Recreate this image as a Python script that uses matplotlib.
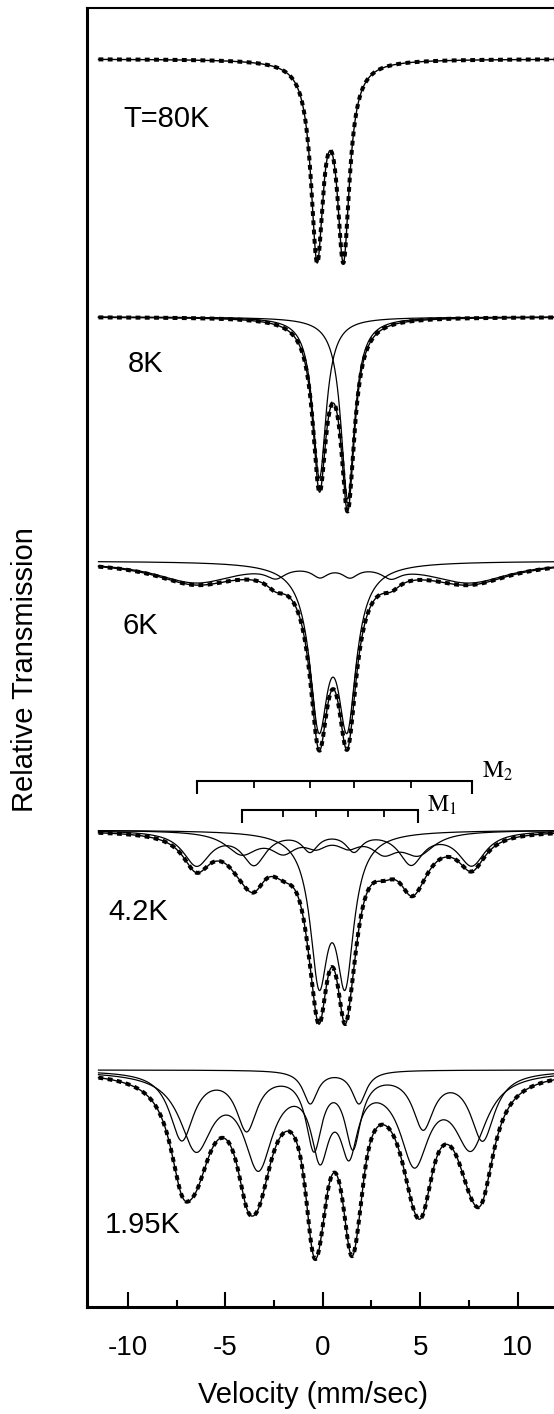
import numpy as np
import matplotlib.pyplot as plt

plt.rcParams['font.family'] = ['Liberation Sans', 'DejaVu Sans']
plt.rcParams['axes.unicode_minus'] = False
plt.rcParams['mathtext.fontset'] = 'stix'

# velocity grid (mm/sec)
v = np.linspace(-11.5, 12.0, 1600)

# vertical shift of each spectrum (percent transmission)
offsets = [0.0, 25.8, 50.2, 77.1, 101.1]
temps = ["T=80K", "8K", "6K", "4.2K", "1.95K"]

# --- 80K: quadrupole doublet ---
t80_pos = [-0.29, 1.06]
t80_depth = [19.0, 19.0]
t80_width = [0.38, 0.38]

# --- 8K: two single lines ---
t8_pos = [-0.17, 1.28]
t8_depth = [16.1, 18.2]
t8_width = [0.42, 0.42]

# --- 6K: doublet + broad relaxing component ---
t6_dbl_pos = [-0.2, 1.25]
t6_dbl_depth = [15.2, 15.2]
t6_dbl_width = [0.57, 0.57]
t6_brd_pos = [-6.5, -2.4, -0.14, 1.4, 3.5, 7.5]
t6_brd_depth = [2.1, 1.0, 1.0, 1.0, 1.0, 2.1]
t6_brd_width = [2.6, 0.6, 0.5, 0.5, 0.6, 2.6]

# --- 4.2K: doublet + sextets M1, M2 ---
t42_dbl_pos = [-0.19, 1.15]
t42_dbl_depth = [14.0, 14.0]
t42_dbl_width = [0.55, 0.55]
m2_lines = [-6.47, -3.52, -0.65, 1.6, 4.53, 7.64]
t42_m2_depth = [3.4, 3.2, 1.8, 1.8, 3.2, 3.4]
t42_m2_width = [0.85, 0.75, 0.5, 0.5, 0.75, 0.85]
m1_lines = [-4.16, -2.02, -0.34, 1.31, 3.14, 4.9]
t42_m1_depth = [2.2, 1.8, 1.2, 1.2, 1.8, 2.2]
t42_m1_width = [1.0, 0.8, 0.7, 0.7, 0.8, 1.0]

# --- 1.95K: small doublet + two sextets ---
t195_dbl_pos = [-0.64, 1.86]
t195_dbl_depth = [3.3, 3.3]
t195_dbl_width = [0.45, 0.45]
t195_s1_pos = [-7.23, -3.9, -0.45, 1.55, 5.15, 8.2]
t195_s1_depth = [6.8, 5.6, 7.4, 7.2, 5.4, 6.8]
t195_s1_width = [0.75, 0.65, 0.5, 0.5, 0.65, 0.75]
t195_s2_pos = [-6.5, -3.3, -0.14, 1.35, 4.7, 7.6]
t195_s2_depth = [7.4, 9.0, 7.4, 7.0, 8.6, 7.2]
t195_s2_width = [1.0, 0.9, 0.55, 0.55, 0.9, 1.0]


def lorentz(pos, depth, width):
    """Sum of Lorentzian absorption lines."""
    a = np.zeros_like(v)
    for p, d, w in zip(pos, depth, width):
        a += d * w**2 / ((v - p)**2 + w**2)
    return a


def draw_panel(ax, k, parts):
    base = offsets[k]
    total = sum(parts)
    # measured points (dotted) and fitted envelope
    ax.plot(v, -base - total, color='k', lw=2.9, ls=(0, (1.2, 1.1)),
            dash_capstyle='butt')
    if len(parts) > 1:
        for p in parts:
            ax.plot(v, -base - p, color='k', lw=0.9)
    ax.plot(v, -base - total, color='k', lw=1.0)


fig = plt.figure(figsize=(5.54, 14.14), dpi=100)
ax = fig.add_axes([87 / 554, 1 - 1307 / 1414, 1 - 87 / 554, 1299 / 1414])

draw_panel(ax, 0, [lorentz(t80_pos, t80_depth, t80_width)])
draw_panel(ax, 1, [lorentz(t8_pos[:1], t8_depth[:1], t8_width[:1]),
                   lorentz(t8_pos[1:], t8_depth[1:], t8_width[1:])])
draw_panel(ax, 2, [lorentz(t6_dbl_pos, t6_dbl_depth, t6_dbl_width),
                   lorentz(t6_brd_pos, t6_brd_depth, t6_brd_width)])
draw_panel(ax, 3, [lorentz(t42_dbl_pos, t42_dbl_depth, t42_dbl_width),
                   lorentz(m2_lines, t42_m2_depth, t42_m2_width),
                   lorentz(m1_lines, t42_m1_depth, t42_m1_width)])
draw_panel(ax, 4, [lorentz(t195_dbl_pos, t195_dbl_depth, t195_dbl_width),
                   lorentz(t195_s1_pos, t195_s1_depth, t195_s1_width),
                   lorentz(t195_s2_pos, t195_s2_depth, t195_s2_width)])

# temperature labels
label_xy = [(-10.24, -6.8), (-9.98, -31.3), (-10.26, -57.5),
            (-11.0, -86.1), (-11.2, -117.4)]
for t, (x, y) in zip(temps, label_xy):
    ax.text(x, y, t, fontsize=21, ha='left', va='baseline')

# stick diagrams for the two sextets
for lines, y0, name, lx, ly in [(m2_lines, -72.2, r"$\mathrm{M}_2$", 8.15, -71.9),
                                (m1_lines, -75.1, r"$\mathrm{M}_1$", 5.35, -75.3)]:
    ax.plot([lines[0], lines[-1]], [y0, y0], color='k', lw=1.5)
    ax.vlines([lines[0], lines[-1]], y0 - 1.3, y0, color='k', lw=1.5)
    ax.vlines(lines[1:-1], y0 - 0.7, y0, color='k', lw=1.3)
    ax.text(lx, ly, name, fontsize=17, ha='left', va='baseline')

ax.set_xlim(-12.09, 11.86)
ax.set_ylim(-124.8, 5.1)

ax.set_xticks([-10, -5, 0, 5, 10])
ax.set_xticks([-7.5, -2.5, 2.5, 7.5], minor=True)
ax.tick_params(axis='x', which='major', direction='in', length=11, width=1.5,
               labelsize=20, pad=20)
ax.tick_params(axis='x', which='minor', direction='in', length=5, width=1.5)
ax.tick_params(axis='y', left=False, labelleft=False)
ax.set_yticks([])

ax.spines['right'].set_visible(False)
ax.spines['left'].set_linewidth(2.2)
ax.spines['bottom'].set_linewidth(2.2)
ax.spines['top'].set_linewidth(1.5)

ax.set_xlabel("Velocity (mm/sec)", fontsize=21)
ax.xaxis.set_label_coords(0.483, -0.057)
ax.set_ylabel("Relative Transmission", fontsize=21)
ax.yaxis.set_label_coords(-0.103, 0.491)

fig.savefig("out.png", dpi=100)
